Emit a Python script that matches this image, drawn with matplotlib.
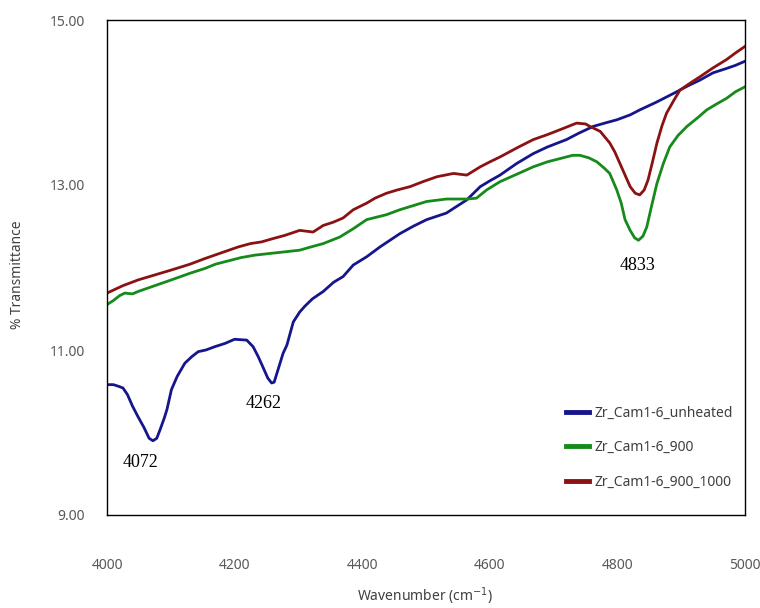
import matplotlib
matplotlib.use("Agg")
import matplotlib.pyplot as plt

# ---------------- data ----------------
wn_unheated = [4000, 4010, 4018, 4025, 4032, 4040, 4048, 4058, 4066, 4072, 4078, 4083,
               4090, 4094, 4101, 4110, 4122, 4133, 4143, 4155, 4169, 4185, 4200, 4219,
               4229, 4237, 4244, 4252, 4258, 4262, 4268, 4276, 4282, 4292, 4302, 4310,
               4322, 4339, 4355, 4370, 4386, 4407, 4428, 4459, 4480, 4501, 4532, 4550,
               4564, 4585, 4600, 4616, 4642, 4668, 4690, 4720, 4740, 4762, 4780, 4799,
               4820, 4835, 4860, 4888, 4910, 4929, 4950, 4970, 4985, 5000]
t_unheated = [10.58, 10.58, 10.56, 10.54, 10.46, 10.32, 10.20, 10.06, 9.93, 9.90, 9.93, 10.03,
              10.18, 10.28, 10.52, 10.68, 10.84, 10.92, 10.98, 11.00, 11.04, 11.08, 11.13, 11.12,
              11.04, 10.92, 10.80, 10.66, 10.60, 10.61, 10.76, 10.96, 11.06, 11.34, 11.46, 11.53,
              11.62, 11.71, 11.82, 11.89, 12.03, 12.13, 12.25, 12.41, 12.50, 12.58, 12.66, 12.75,
              12.82, 12.98, 13.05, 13.12, 13.26, 13.38, 13.46, 13.55, 13.63, 13.71, 13.75, 13.79,
              13.85, 13.91, 14.00, 14.11, 14.20, 14.27, 14.36, 14.41, 14.45, 14.50]

wn_900 = [4000, 4010, 4020, 4028, 4040, 4049, 4075, 4101, 4130, 4154, 4170, 4185, 4210,
          4232, 4255, 4279, 4302, 4320, 4339, 4365, 4386, 4407, 4438, 4459, 4480, 4501,
          4532, 4564, 4579, 4595, 4616, 4645, 4668, 4690, 4710, 4730, 4741, 4755, 4768,
          4780, 4788, 4799, 4806, 4812, 4820, 4827, 4833, 4840, 4846, 4854, 4862, 4872,
          4882, 4895, 4909, 4925, 4940, 4955, 4971, 4985, 5000]
t_900 = [11.55, 11.60, 11.66, 11.69, 11.68, 11.71, 11.78, 11.85, 11.93, 11.99, 12.04, 12.07, 12.12,
         12.15, 12.17, 12.19, 12.21, 12.25, 12.29, 12.37, 12.47, 12.58, 12.64, 12.70, 12.75, 12.80,
         12.83, 12.83, 12.84, 12.94, 13.04, 13.14, 13.22, 13.28, 13.32, 13.36, 13.36, 13.33, 13.28,
         13.20, 13.14, 12.94, 12.78, 12.58, 12.45, 12.36, 12.33, 12.38, 12.49, 12.76, 13.02, 13.26,
         13.46, 13.60, 13.71, 13.81, 13.91, 13.98, 14.05, 14.13, 14.19]

wn_900_1000 = [4000, 4025, 4049, 4075, 4101, 4130, 4154, 4180, 4206, 4225, 4242, 4260, 4279,
               4302, 4323, 4339, 4355, 4370, 4386, 4407, 4420, 4438, 4455, 4475, 4495, 4517,
               4543, 4564, 4585, 4600, 4616, 4645, 4668, 4690, 4710, 4736, 4750, 4757, 4773,
               4788, 4796, 4804, 4812, 4820, 4828, 4835, 4842, 4848, 4855, 4862, 4870, 4877,
               4888, 4898, 4915, 4929, 4950, 4971, 4985, 5000]
t_900_1000 = [11.69, 11.78, 11.85, 11.91, 11.97, 12.04, 12.11, 12.18, 12.25, 12.29, 12.31, 12.35, 12.39,
              12.45, 12.43, 12.51, 12.55, 12.60, 12.70, 12.78, 12.84, 12.90, 12.94, 12.98, 13.04, 13.10,
              13.14, 13.12, 13.22, 13.28, 13.34, 13.46, 13.55, 13.61, 13.67, 13.75, 13.74, 13.71, 13.65,
              13.51, 13.40, 13.26, 13.12, 12.98, 12.90, 12.88, 12.94, 13.06, 13.28, 13.51, 13.72, 13.87,
              14.02, 14.15, 14.24, 14.31, 14.42, 14.52, 14.60, 14.68]

series_labels = ["Zr_Cam1-6_unheated", "Zr_Cam1-6_900", "Zr_Cam1-6_900_1000"]
series_colors = ["#15158c", "#168a1a", "#8a1212"]

peak_labels = ["4072", "4262", "4833"]
peak_text_x = [4053, 4245, 4832]
peak_text_y = [9.64, 10.35, 12.02]

x_ticks = [4000, 4200, 4400, 4600, 4800, 5000]
y_ticks = [9.0, 11.0, 13.0, 15.0]

# ---------------- figure ----------------
W, H = 760, 608
fig = plt.figure(figsize=(W / 100, H / 100), dpi=100)
ax = fig.add_axes([107 / W, 1 - 515 / H, (745 - 107) / W, (515 - 20) / H])

series = [(wn_unheated, t_unheated), (wn_900, t_900), (wn_900_1000, t_900_1000)]
for (x, y), lab, col in zip(series, series_labels, series_colors):
    ax.plot(x, y, color=col, lw=2.0, label=lab, solid_joinstyle="round")

ax.set_xlim(4000, 5000)
ax.set_ylim(9, 15)
ax.set_xticks(x_ticks)
ax.set_yticks(y_ticks)
ax.set_xticklabels([str(v) for v in x_ticks])
ax.set_yticklabels([f"{v:.2f}" for v in y_ticks])
ax.tick_params(axis="x", length=0, pad=31, labelsize=10, labelcolor="#595959")
ax.tick_params(axis="y", length=0, pad=16, labelsize=10, labelcolor="#595959")
for lab in ax.get_xticklabels() + ax.get_yticklabels():
    lab.set_family("Noto Sans")

for s in ax.spines.values():
    s.set_color("black")
    s.set_linewidth(1.0)

for t, xw, yt in zip(peak_labels, peak_text_x, peak_text_y):
    ax.text(xw, yt, t, ha="center", va="center", fontsize=13,
            family="Liberation Serif", color="black")

fig.text(425 / W, 1 - 596 / H, "Wavenumber (cm$^{-1}$)", ha="center", va="center",
         fontsize=10, color="#404040", family="Noto Sans")
fig.text(18 / W, 1 - 275 / H, "% Transmittance", ha="center", va="center",
         rotation=90, fontsize=10, color="#404040", family="Noto Sans")

leg = ax.legend(loc="lower right", bbox_to_anchor=(0.99, 0.04), frameon=False,
                prop={"family": "Noto Sans", "size": 10}, labelspacing=1.4,
                handlelength=1.65, handletextpad=0.4, borderaxespad=0.0)
for t in leg.get_texts():
    t.set_color("#404040")
for h in leg.get_lines():
    h.set_linewidth(3.5)

fig.savefig("out.png", dpi=100)
